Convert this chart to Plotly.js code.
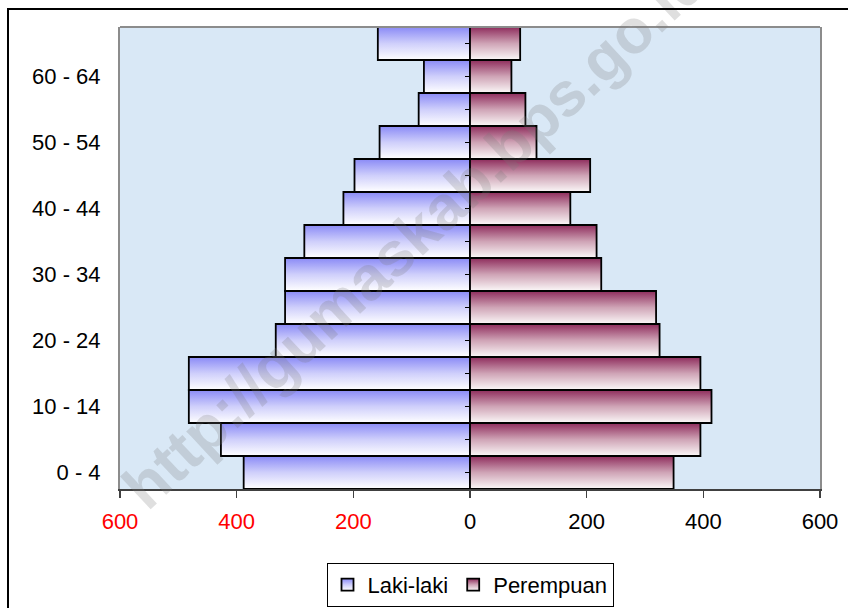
<!DOCTYPE html>
<html>
<head>
<meta charset="utf-8">
<script src="https://cdn.plot.ly/plotly-3.0.1.min.js"></script>
<style>
  html, body { margin: 0; padding: 0; background: #ffffff; }
  #wrap { position: relative; width: 848px; height: 608px; overflow: hidden; }
  #chart { position: absolute; left: 0; top: 0; width: 848px; height: 608px; }
  #frame { position: absolute; left: 7px; top: 8px; width: 900px; height: 700px;
           border-left: 2px solid #000; border-top: 2px solid #000; pointer-events: none; }
</style>
</head>
<body>
<div id="wrap">
  <div id="chart"></div>
  <div id="frame"></div>
</div>
<svg width="0" height="0" style="position:absolute">
  <defs>
    <linearGradient id="gradM" x1="0" y1="0" x2="0" y2="1">
      <stop offset="0" stop-color="#8a8af6"/>
      <stop offset="0.5" stop-color="#cfcffb"/>
      <stop offset="1" stop-color="#ffffff"/>
    </linearGradient>
    <linearGradient id="gradF" x1="0" y1="0" x2="0" y2="1">
      <stop offset="0" stop-color="#8e2c5c"/>
      <stop offset="0.5" stop-color="#cfa4b6"/>
      <stop offset="1" stop-color="#fbf8f8"/>
    </linearGradient>
  </defs>
</svg>
<script>
// Age groups, bottom to top
const ageGroups = ['0 - 4','5 - 9','10 - 14','15 - 19','20 - 24','25 - 29','30 - 34',
                   '35 - 39','40 - 44','45 - 49','50 - 54','55 - 59','60 - 64','65+'];
// Laki-laki (male) counts
const male = [388, 427, 482, 482, 333, 317, 317, 284, 217, 198, 155, 88, 79, 158];
// Perempuan (female) counts
const female = [349, 395, 414, 395, 325, 319, 225, 217, 172, 206, 114, 95, 71, 86];
// Labelled age groups on the axis
const shownAgeLabels = ['0 - 4','10 - 14','20 - 24','30 - 34','40 - 44','50 - 54','60 - 64'];
// x-axis ticks
const xTickVals = [-600, -400, -200, 0, 200, 400, 600];
const xTickText = ['600', '400', '200', '0', '200', '400', '600'];
const seriesNames = ['Laki-laki', 'Perempuan'];
const watermark = 'http://gumaskab.bps.go.id';

const font = 'Arial, "Liberation Sans", sans-serif';

const traces = [
  {
    type: 'bar', orientation: 'h', name: seriesNames[0],
    y: ageGroups, x: male.map(v => -v),
    marker: { color: '#9a9af8', line: { color: '#000000', width: 1.8 } },
    hoverinfo: 'skip'
  },
  {
    type: 'bar', orientation: 'h', name: seriesNames[1],
    y: ageGroups, x: female,
    marker: { color: '#b06a8a', line: { color: '#000000', width: 1.8 } },
    hoverinfo: 'skip'
  },
  {
    type: 'scatter', mode: 'markers', x: [null], y: [null], yaxis: 'y2',
    showlegend: false, hoverinfo: 'skip'
  }
];

const layout = {
  width: 848, height: 608,
  margin: { l: 120, r: 28, t: 27, b: 119, autoexpand: false },
  paper_bgcolor: 'rgba(0,0,0,0)',
  plot_bgcolor: '#d9e8f6',
  font: { family: font, size: 22, color: '#000000' },
  barmode: 'relative',
  bargap: 0,
  showlegend: true,
  xaxis: {
    range: [-600, 600],
    tickmode: 'array',
    tickvals: xTickVals,
    ticktext: xTickText.map((t, i) => xTickVals[i] < 0 ? '<span style="color:#ff0000">' + t + '</span>' : t),
    ticks: 'outside', ticklen: 7, tickwidth: 1.5, tickcolor: '#404040',
    showline: true, linecolor: '#404040', linewidth: 2,
    showgrid: false, zeroline: false,
    tickfont: { family: font, size: 22, color: '#000000' },
    ticklabelstandoff: 5,
    fixedrange: true
  },
  yaxis: {
    type: 'category',
    categoryorder: 'array', categoryarray: ageGroups,
    range: [-0.5, 13.5],
    tickmode: 'array', tickvals: shownAgeLabels, ticktext: shownAgeLabels,
    ticks: '', showline: true, linecolor: '#8c8c8c', linewidth: 2, mirror: true,
    showgrid: false, zeroline: false,
    tickfont: { family: font, size: 22, color: '#000000' },
    ticklabelstandoff: 13,
    fixedrange: true
  },
  yaxis2: {
    overlaying: 'y', anchor: 'free', position: 0.5, side: 'left',
    range: [-0.5, 13.5], tickmode: 'array',
    tickvals: ageGroups.map((_, i) => i),
    ticks: 'outside', ticklen: 5, tickwidth: 1.5, tickcolor: '#000000',
    showticklabels: false, showline: false, showgrid: false, zeroline: false,
    fixedrange: true
  },
  legend: {
    orientation: 'h', x: 0.5, xanchor: 'center', y: -0.160, yanchor: 'top',
    bordercolor: '#000000', borderwidth: 1, bgcolor: '#ffffff',
    font: { family: font, size: 22, color: '#000000' },
    itemwidth: 30, tracegroupgap: 0
  },
  shapes: [
    { type: 'line', xref: 'paper', yref: 'paper', x0: 0, x1: 1, y0: 1, y1: 1,
      line: { color: '#8c8c8c', width: 2 } }
  ],
  annotations: [
    { text: '<b>' + watermark + '</b>', xref: 'paper', yref: 'paper',
      x: 0.421, y: 0.554, xanchor: 'center', yanchor: 'middle', showarrow: false,
      textangle: -43, font: { family: font, size: 62, color: 'rgba(120,120,120,0.24)' } }
  ]
};

Plotly.newPlot('chart', traces, layout, { displayModeBar: false, staticPlot: true }).then(gd => {
  const grads = ['url(#gradM)', 'url(#gradF)'];
  gd.querySelectorAll('.barlayer .trace').forEach((tr, i) => {
    tr.querySelectorAll('path').forEach(p => { p.style.fill = grads[i] || p.style.fill; });
  });
  gd.querySelectorAll('.legend .traces').forEach((tr, i) => {
    tr.querySelectorAll('.legendpoints path').forEach(p => { p.style.fill = grads[i]; });
  });
});
</script>
</body>
</html>
